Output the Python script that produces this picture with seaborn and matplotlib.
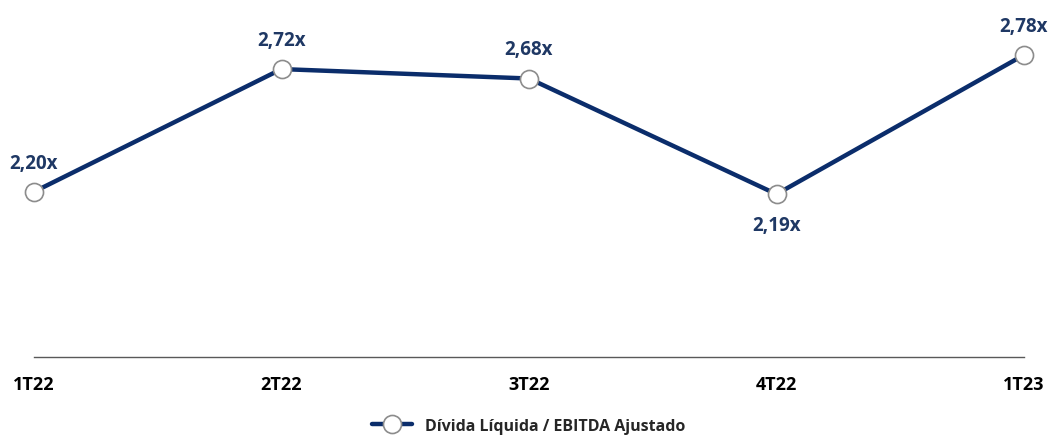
import matplotlib
matplotlib.use("Agg")
import matplotlib.pyplot as plt
import seaborn as sns
import pandas as pd

# data
quarters = ["1T22", "2T22", "3T22", "4T22", "1T23"]
ratio = [2.20, 2.72, 2.68, 2.19, 2.78]
label_pos = ["above", "above", "above", "below", "above"]

series_name = "Dívida Líquida / EBITDA Ajustado"
line_color = "#0b2d6b"
text_color = "#1f3864"

sns.set_theme(style="white")
plt.rcParams["font.family"] = ["Open Sans", "DejaVu Sans"]

df = pd.DataFrame({"pos": range(len(quarters)), "ratio": ratio, "serie": series_name})

fig = plt.figure(figsize=(10.53, 4.39), dpi=100)
ax = fig.add_axes([34 / 1053, 81 / 439, 990 / 1053, 354 / 439])

sns.lineplot(
    data=df, x="pos", y="ratio", hue="serie", palette=[line_color],
    linewidth=3.2, marker="o", markersize=13, markerfacecolor="white",
    markeredgecolor="#8c8c8c", markeredgewidth=1.2, ax=ax, clip_on=False,
)

for i, (v, p) in enumerate(zip(ratio, label_pos)):
    off = 21 if p == "above" else -22
    ax.annotate(f"{v:.2f}x".replace(".", ","), (i, v), xytext=(0, off),
                textcoords="offset points", ha="center", va="center",
                fontsize=13.5, fontweight="bold", color=text_color)

ax.set_xlim(0, len(quarters) - 1)
ax.set_ylim(1.5, 3.0)
ax.set_xticks(range(len(quarters)))
ax.set_xticklabels(quarters, fontsize=13, fontweight="bold", color="black")
ax.set_yticks([])
ax.set_xlabel("")
ax.set_ylabel("")
ax.tick_params(axis="x", length=0, pad=13)
for s in ["top", "right", "left"]:
    ax.spines[s].set_visible(False)
ax.spines["bottom"].set_color("#595959")
ax.spines["bottom"].set_linewidth(1.0)

leg = ax.legend(loc="center", bbox_to_anchor=(0.5, -0.195), frameon=False,
                prop={"weight": "bold", "size": 11.5}, handlelength=2.5)

fig.savefig("out.png", dpi=100)
